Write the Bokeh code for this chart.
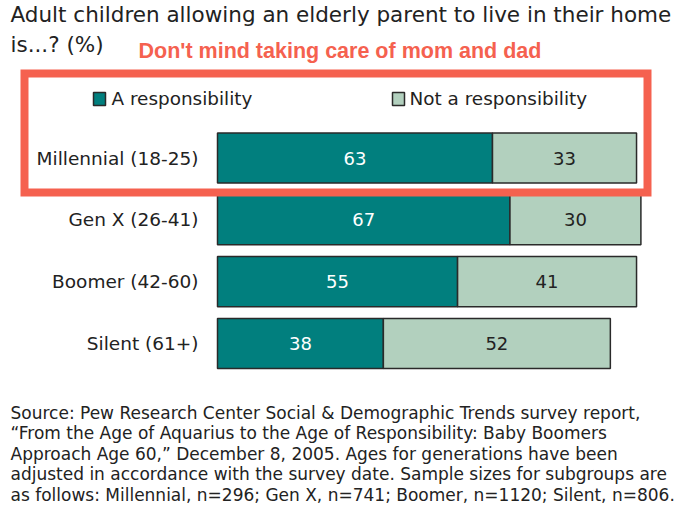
from bokeh.plotting import figure
from bokeh.models import Range1d
from bokeh.core.properties import value
from bokeh.embed import file_html
from bokeh.resources import INLINE

# ---- data ----
categories = ["Millennial (18-25)", "Gen X (26-41)", "Boomer (42-60)", "Silent (61+)"]
responsibility = [63, 67, 55, 38]
not_responsibility = [33, 30, 41, 52]
series_names = ["A responsibility", "Not a responsibility"]
title_lines = ["Adult children allowing an elderly parent to live in their home",
               "is...? (%)"]
highlight_text = "Don't mind taking care of mom and dad"
source_lines = [
    "Source: Pew Research Center Social & Demographic Trends survey report,",
    "\u201cFrom the Age of Aquarius to the Age of Responsibility: Baby Boomers",
    "Approach Age 60,\u201d December 8, 2005. Ages for generations have been",
    "adjusted in accordance with the survey date.  Sample sizes for subgroups are",
    "as follows: Millennial, n=296; Gen X, n=741; Boomer, n=1120; Silent, n=806.",
]

# ---- layout helpers (image pixel -> data) ----
W, H = 684, 509
SX, SY = 4.365, 61.83
def ix(px):
    return (px - 217) / SX
def iy(py):
    return (py - 157.5) / SY

TEAL = "#017F7E"
LIGHT = "#B2D0BE"
RED = "#F5614F"
INK = "#222222"
FONT = "DejaVu Sans"

p = figure(width=W, height=H, x_range=Range1d(ix(0), ix(W)),
           y_range=Range1d(iy(H), iy(0)),
           output_backend="svg", toolbar_location=None, min_border=0,
           x_axis_location=None, y_axis_location=None, outline_line_color=None)
p.grid.visible = False
p.background_fill_color = "white"
p.border_fill_color = "white"

idx = list(range(len(categories)))
totals = [a + b for a, b in zip(responsibility, not_responsibility)]

p.hbar(y=idx, left=0, right=responsibility, height=0.81,
       fill_color=TEAL, line_color="#2a2a2a", line_width=1.5)
p.hbar(y=idx, left=responsibility, right=totals, height=0.81,
       fill_color=LIGHT, line_color="#2a2a2a", line_width=1.5)

p.text(x=[v / 2 for v in responsibility], y=idx, text=[str(v) for v in responsibility],
       text_align="center", text_baseline="middle", text_color="white",
       text_font=value(FONT), text_font_size="18px")
p.text(x=[a + b / 2 for a, b in zip(responsibility, not_responsibility)], y=idx,
       text=[str(v) for v in not_responsibility],
       text_align="center", text_baseline="middle", text_color=INK,
       text_font=value(FONT), text_font_size="18px")

p.text(x=[ix(198)] * len(categories), y=idx, text=categories,
       text_align="right", text_baseline="middle", text_color=INK,
       text_font=value(FONT), text_font_size="18.5px")

# legend
p.quad(left=[ix(93), ix(392)], right=[ix(105), ix(404)],
       top=[iy(92), iy(92)], bottom=[iy(105), iy(105)],
       fill_color=[TEAL, LIGHT], line_color="#2a2a2a", line_width=1.5)
p.text(x=[ix(111), ix(409)], y=[iy(98), iy(98)], text=series_names,
       text_align="left", text_baseline="middle", text_color=INK,
       text_font=value(FONT), text_font_size="18.4px")

# highlight box
p.quad(left=[ix(24)], right=[ix(647)], top=[iy(73)], bottom=[iy(192)],
       fill_alpha=0, line_color=RED, line_width=8, line_join="miter")

# titles
p.text(x=[ix(10)] * 2, y=[iy(14), iy(44)], text=title_lines,
       text_align="left", text_baseline="middle", text_color=INK,
       text_font=value(FONT), text_font_size="21.5px")
p.text(x=[ix(138)], y=[iy(50)], text=[highlight_text],
       text_align="left", text_baseline="middle", text_color=RED,
       text_font=value("Liberation Sans"), text_font_style="bold",
       text_font_size="21.5px")

# source
p.text(x=[ix(10)] * len(source_lines), y=[iy(412 + 20.5 * i) for i in range(len(source_lines))],
       text=source_lines, text_align="left", text_baseline="middle", text_color=INK,
       text_font=value(FONT), text_font_size="17px")

open("out.html", "w").write(file_html(p, INLINE))
